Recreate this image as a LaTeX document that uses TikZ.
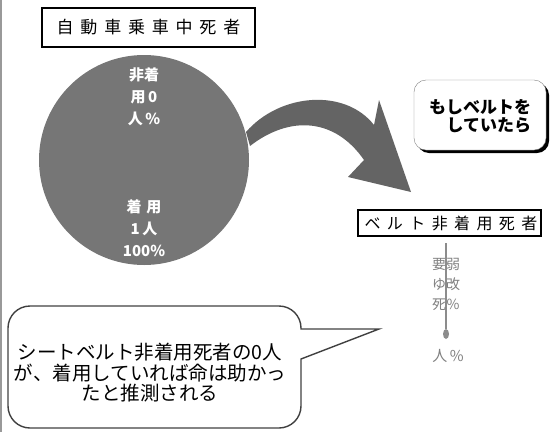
\documentclass[tikz,border=0pt]{standalone}
\usepackage{fontspec}
\newfontfamily\jp{Noto Sans CJK JP}
\newfontfamily\jpwide[LetterSpace=40]{Noto Sans CJK JP}
\usetikzlibrary{shapes.geometric}

\definecolor{piegray}{RGB}{118,118,118}
\definecolor{arrowgray}{RGB}{100,100,100}

\begin{document}
\begin{tikzpicture}[x=1pt, y=-1pt, font=\jp,
	titlebox/.style={draw=black, line width=1.6pt, inner sep=0pt, font=\jpwide\fontsize{17}{17}\selectfont},
	pietext/.style={white, align=center, font=\jp\bfseries\fontsize{15}{22}\selectfont},
	faint/.style={black!50, font=\jp\fontsize{14}{20}\selectfont, align=center}]
	\useasboundingbox (0,0) rectangle (552,432);
	\draw [black!40, line width=1.5pt] (1,0) -- (1,432);
	\node [titlebox, minimum width=213pt, minimum height=39pt] (title) at (148.5,27.5) {自動車乗車中死者};
	\node [circle, fill=piegray, minimum size=210pt, inner sep=0pt] (pie) at (144,160) {};
	\node [pietext] (nonuse) at (144,97) {非着\\用\,0\\人\,\%};
	\node [pietext] (use) at (144,228) {着\,\,用\\1\,人\\100\%};
	\fill [arrowgray] (246,132) .. controls (280,93) and (345,88) .. (374,125) -- (379,100) -- (411,192) -- (348,177) -- (364,160) .. controls (335,118) and (290,115) .. (250,146) -- cycle;
	\fill [black, rounded corners=12pt] (417,83) rectangle (549,153);
	\draw [black!50, fill=white, rounded corners=12pt] (414,80) rectangle (546,150);
	\node [align=right, font=\jp\bfseries\fontsize{17}{18}\selectfont] (ifbelt) at (480,116) {もしベルトを\\していたら};
	\node [titlebox, font=\jpwide\fontsize{16}{16}\selectfont, minimum width=183pt, minimum height=26pt] (beltbox) at (449.5,223) {\hspace{3pt}ベルト非着用死者};
	\draw [black!45, line width=1.2pt] (446,243) -- (446,329);
	\node [ellipse, fill=black!45, minimum width=6pt, minimum height=10pt, inner sep=0pt] (dot) at (446,334) {};
	\node [faint] (colA) at (439,284) {要\\ゆ\\死};
	\node [faint] (colB) at (453,284) {弱\\改\\\%};
	\node [faint, font=\jp\fontsize{15}{15}\selectfont] (nonuse0) at (448,356) {人\,\%};
	\draw [black!75, line width=1.4pt] (379,329) -- (301,359) [rounded corners=22pt] -- (301,428) -- (8,428) -- (8,306) -- (301,306) [sharp corners] -- (301,329) -- cycle;
	\node [align=center, font=\jp\fontsize{19.5}{20.5}\selectfont] (note) at (150,373) {シートベルト非着用死者の0人\\が、着用していれば命は助かっ\\たと推測される};
\end{tikzpicture}
\end{document}
